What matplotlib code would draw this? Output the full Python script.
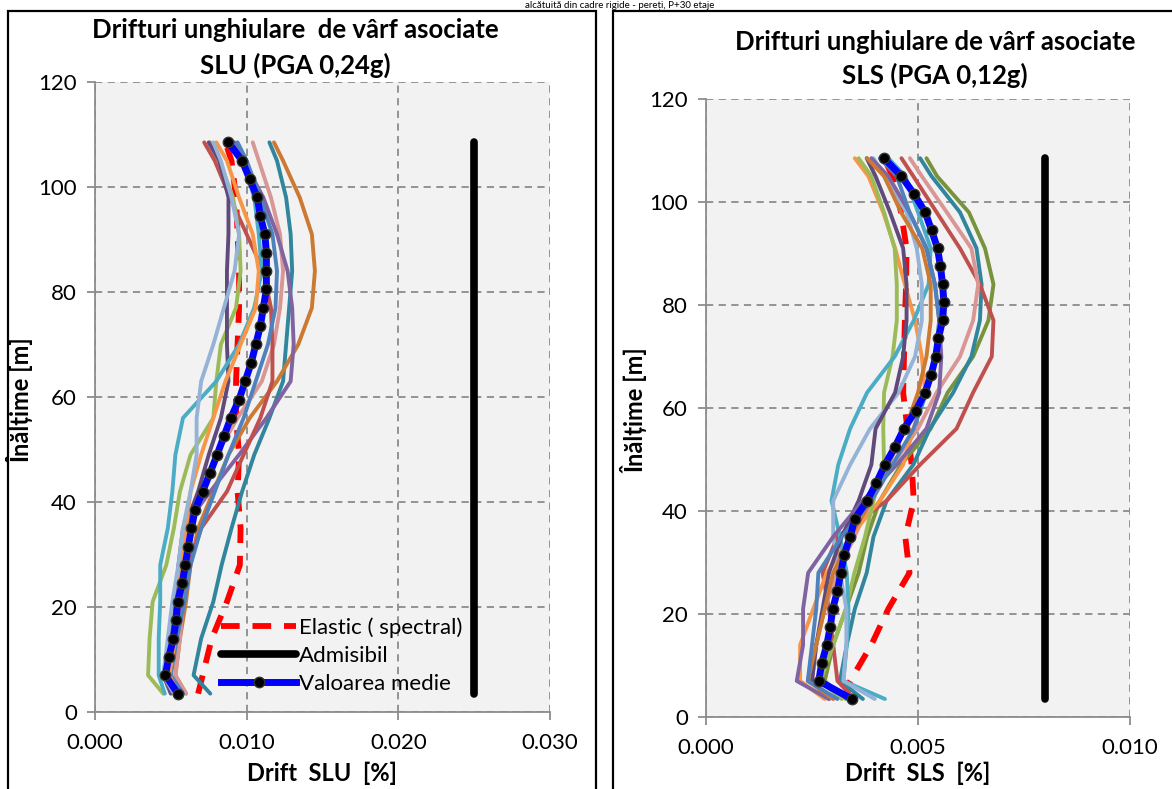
import matplotlib
matplotlib.use("Agg")
import matplotlib.pyplot as plt
from matplotlib.patches import Rectangle
from matplotlib.ticker import FormatStrFormatter

plt.rcParams['font.family'] = ['Lato', 'DejaVu Sans']

# storey heights [m]
h_levels = [3.5, 7, 10.5, 14, 17.5, 21, 24.5, 28, 31.5, 35, 38.5, 42, 45.5, 49, 52.5, 56,
            59.5, 63, 66.5, 70, 73.5, 77, 80.5, 84, 87.5, 91, 94.5, 98, 101.5, 105, 108.5]
h_rec = [3.5, 7, 14, 21, 28, 35, 42, 49, 56, 63, 70, 77, 84, 91, 98, 105, 108.5]

# ---- SLU (PGA 0,24g) ----
slu_mean = [0.00546, 0.00464, 0.00487, 0.00517, 0.00535, 0.00545, 0.00575, 0.00595, 0.00615, 0.00636,
            0.0066, 0.0071, 0.00758, 0.00805, 0.0085, 0.00895, 0.0095, 0.0099, 0.0103, 0.0106,
            0.0109, 0.0111, 0.0113, 0.0113, 0.0113, 0.0112, 0.0109, 0.0107, 0.0102, 0.0097, 0.0088]
slu_elastic = [0.0068, 0.0071, 0.0077, 0.0087, 0.00955, 0.0096, 0.0094, 0.0095, 0.0093, 0.0093,
               0.0094, 0.0095, 0.0095, 0.0094, 0.0093, 0.0090, 0.0086]
slu_admis = 0.025
slu_records = {
    '#31859C': [0.0076, 0.0065, 0.0070, 0.0078, 0.00835, 0.0090, 0.0097, 0.0105, 0.0115, 0.0124,
                0.0126, 0.0128, 0.0130, 0.0129, 0.0126, 0.0120, 0.0115],
    '#CC7A33': [0.0060, 0.0053, 0.0056, 0.0060, 0.0063, 0.0068, 0.0078, 0.0088, 0.0102, 0.0120,
                0.0134, 0.0143, 0.0145, 0.0143, 0.0135, 0.0124, 0.0118],
    '#D99694': [0.0060, 0.0053, 0.0056, 0.0058, 0.0060, 0.0063, 0.0070, 0.0080, 0.0094, 0.0110,
                0.0118, 0.0122, 0.0124, 0.0122, 0.0116, 0.0108, 0.0104],
    '#8064A2': [0.0053, 0.0046, 0.0050, 0.0053, 0.0055, 0.0058, 0.0076, 0.0095, 0.0113, 0.0129,
                0.0131, 0.0130, 0.0127, 0.0120, 0.0111, 0.0098, 0.0092],
    '#C0504D': [0.0055, 0.0047, 0.0052, 0.0056, 0.0062, 0.0070, 0.0087, 0.0098, 0.0109, 0.0117,
                0.0117, 0.0116, 0.0111, 0.0100, 0.0089, 0.0079, 0.0072],
    '#9BBB59': [0.0045, 0.0035, 0.0036, 0.0038, 0.0047, 0.0052, 0.0056, 0.0063, 0.0078, 0.0080,
                0.0083, 0.0093, 0.0096, 0.0095, 0.0091, 0.0082, 0.0076],
    '#4F81BD': [0.0058, 0.0050, 0.0054, 0.0059, 0.0063, 0.0070, 0.0079, 0.0088, 0.0098, 0.0106,
                0.0114, 0.0119, 0.0120, 0.0117, 0.0109, 0.0100, 0.0094],
    '#604A7B': [0.0050, 0.0045, 0.0049, 0.0052, 0.0056, 0.0059, 0.0068, 0.0075, 0.0083, 0.0088,
                0.0087, 0.0087, 0.0087, 0.0088, 0.0088, 0.0082, 0.0075],
    '#4BACC6': [0.0046, 0.0042, 0.0042, 0.0043, 0.0043, 0.0048, 0.0051, 0.0053, 0.0058, 0.0080,
                0.0095, 0.0105, 0.0110, 0.0108, 0.0105, 0.0097, 0.0090],
    '#F79646': [0.0055, 0.0049, 0.0053, 0.0055, 0.0056, 0.0060, 0.0063, 0.0070, 0.0078, 0.0086,
                0.0096, 0.0106, 0.0108, 0.0104, 0.0095, 0.0087, 0.0080],
    '#95B3D7': [0.0052, 0.0045, 0.0048, 0.0051, 0.0055, 0.0058, 0.0063, 0.0067, 0.0067, 0.0070,
                0.0078, 0.0085, 0.0092, 0.0095, 0.0090, 0.0083, 0.0078],
}

# ---- SLS (PGA 0,12g) ----
sls_mean = [0.00344, 0.00266, 0.00273, 0.00285, 0.00293, 0.00299, 0.0031, 0.00318, 0.00326, 0.0034,
            0.00351, 0.0038, 0.00402, 0.00422, 0.00446, 0.00467, 0.00495, 0.00517, 0.00531, 0.00542,
            0.00548, 0.00558, 0.00561, 0.00558, 0.00553, 0.00546, 0.00532, 0.00517, 0.00491, 0.00461, 0.0042]
sls_elastic = [0.0033, 0.0034, 0.0039, 0.0043, 0.0048, 0.0047, 0.0049, 0.00485, 0.00475, 0.00465,
               0.00467, 0.00469, 0.00472, 0.00473, 0.0046, 0.0044, 0.0042]
sls_admis = 0.008
sls_records = {
    '#77933C': [0.0033, 0.0028, 0.0030, 0.0033, 0.0036, 0.0038, 0.0041, 0.0046, 0.0053, 0.0057,
                0.0063, 0.00666, 0.00678, 0.00658, 0.0062, 0.00545, 0.0052],
    '#31859C': [0.0037, 0.00316, 0.00332, 0.00351, 0.00379, 0.00395, 0.00426, 0.00489, 0.00528, 0.00583,
                0.00626, 0.00646, 0.0065, 0.00638, 0.00599, 0.00532, 0.00505],
    '#C0504D': [0.0035, 0.0031, 0.0030, 0.0029, 0.00275, 0.0031, 0.00426, 0.00505, 0.00591, 0.0063,
                0.00674, 0.00678, 0.00646, 0.00599, 0.00544, 0.00489, 0.00461],
    '#D99694': [0.0030, 0.0025, 0.0026, 0.0028, 0.0031, 0.0035, 0.0039, 0.0044, 0.0050, 0.00544,
                0.00599, 0.0063, 0.00642, 0.00626, 0.00568, 0.00509, 0.00481],
    '#F79646': [0.0028, 0.00222, 0.00222, 0.00253, 0.00285, 0.0034, 0.0041, 0.00465, 0.00489, 0.00517,
                0.00509, 0.00493, 0.00469, 0.00446, 0.00418, 0.00383, 0.00351],
    '#9BBB59': [0.0032, 0.0027, 0.0030, 0.0033, 0.0035, 0.00375, 0.00395, 0.0042, 0.00418, 0.0042,
                0.0044, 0.0045, 0.0045, 0.00445, 0.0042, 0.0039, 0.0036],
    '#4BACC6': [0.00422, 0.00324, 0.00332, 0.00336, 0.00332, 0.00316, 0.00296, 0.00312, 0.0034, 0.0038,
                0.00445, 0.0049, 0.00525, 0.0053, 0.0050, 0.0047, 0.0043],
    '#95B3D7': [0.00398, 0.00324, 0.00331, 0.00331, 0.00316, 0.0030, 0.0030, 0.0034, 0.00387, 0.00454,
                0.00493, 0.00509, 0.00509, 0.00497, 0.00473, 0.0042, 0.00395],
    '#604A7B': [0.0029, 0.0025, 0.0026, 0.00275, 0.0029, 0.0032, 0.0036, 0.0039, 0.0040, 0.00446,
                0.00465, 0.00473, 0.00473, 0.00465, 0.00434, 0.0040, 0.00379],
    '#8064A2': [0.0029, 0.00214, 0.00229, 0.00229, 0.00241, 0.0030, 0.0037, 0.0045, 0.0052, 0.0055,
                0.00555, 0.0055, 0.0054, 0.0052, 0.0048, 0.0043, 0.0039],
    '#CC7A33': [0.0030, 0.0024, 0.0026, 0.0028, 0.0030, 0.0034, 0.0039, 0.0043, 0.0047, 0.0050,
                0.0052, 0.0053, 0.0053, 0.0051, 0.0046, 0.0042, 0.0038],
    '#4F81BD': [0.0031, 0.0024, 0.0025, 0.0026, 0.00265, 0.0032, 0.0039, 0.0044, 0.0049, 0.0052,
                0.0054, 0.0055, 0.0054, 0.0052, 0.0048, 0.0045, 0.0041],
}

W, H = 1172, 789
fig = plt.figure(figsize=(W / 100, H / 100), dpi=100)

grid_col = '#8c8c8c'


def px_axes(x0, x1, y_top, y_bot):
    return fig.add_axes([x0 / W, 1 - y_bot / H, (x1 - x0) / W, (y_bot - y_top) / H])


def draw_panel(ax, mean, elastic, admis, records, xmax, xticks):
    ax.set_facecolor('#f2f2f2')
    ax.plot(elastic, h_rec, color='#ff0000', lw=4.2, ls=(0, (3.2, 2.2)), label='Elastic ( spectral)', zorder=2)
    for col, vals in records.items():
        ax.plot(vals, h_rec, color=col, lw=2.8, solid_capstyle='round', zorder=3)
    ax.plot([admis, admis], [h_levels[0], h_levels[-1]], color='black', lw=5.5,
            solid_capstyle='round', label='Admisibil', zorder=4)
    ax.plot(mean, h_levels, color='#0000ff', lw=5, marker='o', ms=7.5, mfc='black', mec='#333333',
            label='Valoarea medie', zorder=5)
    ax.set_xlim(0, xmax)
    ax.set_ylim(0, 120)
    ax.set_xticks(xticks)
    ax.set_yticks([0, 20, 40, 60, 80, 100, 120])
    ax.xaxis.set_major_formatter(FormatStrFormatter('%.3f'))
    ax.grid(True, color=grid_col, ls=(0, (4, 3)), lw=1.3)
    ax.set_axisbelow(True)
    for s in ['top', 'right']:
        ax.spines[s].set_visible(False)
    for s in ['left', 'bottom']:
        ax.spines[s].set_color(grid_col)
        ax.spines[s].set_linewidth(1.3)
    ax.tick_params(axis='both', direction='out', length=6, width=1.3, color=grid_col,
                   labelsize=16, labelcolor='black')
    ax.tick_params(axis='x', pad=9)
    ax.tick_params(axis='y', pad=7)


ax1 = px_axes(95, 550, 82, 712)
draw_panel(ax1, slu_mean, slu_elastic, slu_admis, slu_records, 0.030, [0, 0.01, 0.02, 0.03])
ax1.legend(loc='upper left', bbox_to_anchor=(0.252, 0.168), frameon=False, fontsize=16,
           handlelength=3.4, handletextpad=0.1, labelspacing=0.36, borderpad=0)

ax2 = px_axes(706, 1130, 99, 717)
draw_panel(ax2, sls_mean, sls_elastic, sls_admis, sls_records, 0.010, [0, 0.005, 0.010])

# titles and axis labels
fig.text(295 / W, 1 - 30 / H, 'Drifturi unghiulare  de vârf asociate', ha='center', va='center',
         fontsize=18.5, fontweight='bold')
fig.text(295 / W, 1 - 65 / H, 'SLU (PGA 0,24g)', ha='center', va='center', fontsize=18.5, fontweight='bold')
fig.text(935 / W, 1 - 42 / H, 'Drifturi unghiulare de vârf asociate', ha='center', va='center',
         fontsize=18.5, fontweight='bold')
fig.text(935 / W, 1 - 75 / H, 'SLS (PGA 0,12g)', ha='center', va='center', fontsize=18.5, fontweight='bold')
fig.text(322 / W, 1 - 773 / H, 'Drift  SLU  [%]', ha='center', va='center', fontsize=17, fontweight='bold')
fig.text(918 / W, 1 - 773 / H, 'Drift  SLS  [%]', ha='center', va='center', fontsize=17, fontweight='bold')
fig.text(20 / W, 1 - 400 / H, 'Înălțime [m]', ha='center', va='center', rotation=90, fontsize=17,
         fontweight='bold')
fig.text(634 / W, 1 - 410 / H, 'Înălțime [m]', ha='center', va='center', rotation=90, fontsize=17,
         fontweight='bold')

# caption line above the two charts (cut off in the source, kept small and readable here)
fig.text(620 / W, 1 - 0.5 / H, 'alcătuită din cadre rigide - pereți, P+30 etaje', ha='center', va='top',
         fontsize=7)

# chart frames
fig.add_artist(Rectangle((8 / W, -0.05), (596 - 8) / W, 1.05 - 11 / H, transform=fig.transFigure,
                         fill=False, ec='black', lw=1.6))
fig.add_artist(Rectangle((613 / W, -0.05), 0.5, 1.05 - 11 / H, transform=fig.transFigure,
                         fill=False, ec='black', lw=1.6))

fig.savefig('out.png', dpi=100)
